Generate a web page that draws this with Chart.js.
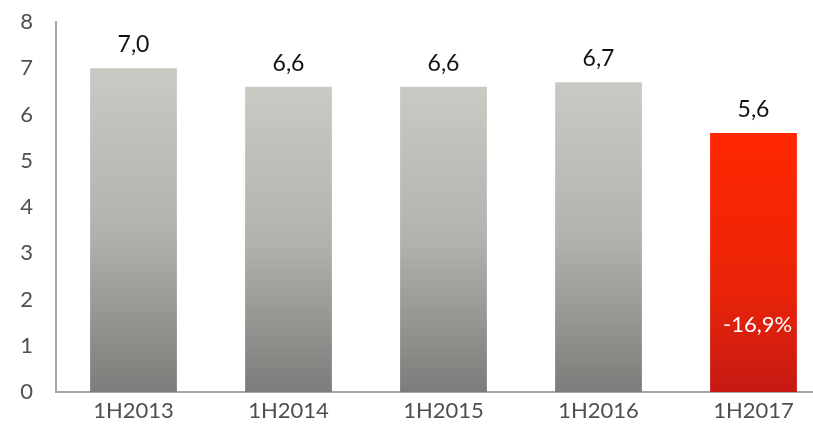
<!DOCTYPE html>
<html>
<head>
<meta charset="utf-8">
<script src="https://cdn.jsdelivr.net/npm/chart.js@4"></script>
<style>
  html, body { margin: 0; padding: 0; background: #fff; overflow: hidden; }
  #wrap { width: 813px; height: 435px; overflow: hidden; }
</style>
</head>
<body>
<div id="wrap"><canvas id="chart" width="831" height="435" style="width:831px;height:435px"></canvas></div>
<script>
const periods = ['1H2013', '1H2014', '1H2015', '1H2016', '1H2017'];
const values = [7.0, 6.6, 6.6, 6.7, 5.6];
const valueLabels = ['7,0', '6,6', '6,6', '6,7', '5,6'];
const changeLabel = '-16,9%';
const yTicks = [0, 1, 2, 3, 4, 5, 6, 7, 8];

function barGradient(ctx, top, bottom, last) {
    const g = ctx.createLinearGradient(0, top, 0, bottom);
    if (last) {
        g.addColorStop(0, '#ff2700');
        g.addColorStop(0.6, '#ea2408');
        g.addColorStop(1, '#c61a14');
    } else {
        g.addColorStop(0, '#cacac5');
        g.addColorStop(0.5, '#b3b2ae');
        g.addColorStop(1, '#7d7c7a');
    }
    return g;
}

const labelPlugin = {
    id: 'labels',
    afterDatasetsDraw(chart) {
        const ctx = chart.ctx;
        const meta = chart.getDatasetMeta(0);
        ctx.save();
        ctx.textAlign = 'center';
        ctx.textBaseline = 'alphabetic';
        ctx.font = '23px Lato';
        ctx.fillStyle = '#111';
        meta.data.forEach(function (bar, i) {
            ctx.fillText(valueLabels[i], bar.x, bar.y - 16);
        });
        const last = meta.data[meta.data.length - 1];
        ctx.font = '22px Lato';
        ctx.fillStyle = '#fff';
        ctx.fillText(changeLabel, last.x + 4, chart.scales.y.getPixelForValue(1.3));
        ctx.restore();
    }
};

const data = {
    labels: periods,
    datasets: [
        {
            data: values,
            backgroundColor: function (c) {
                const y = c.chart.scales.y;
                if (!c.chart.chartArea || !y) return '#aaa';
                return barGradient(c.chart.ctx, y.getPixelForValue(values[c.dataIndex]),
                    y.getPixelForValue(0), c.dataIndex === values.length - 1);
            },
            categoryPercentage: 1,
            barPercentage: 0.56
        }
    ]
};

const config = {
    type: 'bar',
    data: data,
    options: {
        responsive: false,
        animation: false,
        layout: { padding: { top: 22, right: 0, left: 0, bottom: 0 } },
        plugins: {
            legend: { display: false },
            title: { display: false },
            tooltip: { enabled: false }
        },
        scales: {
            x: {
                grid: { display: false, drawTicks: false },
                border: { color: '#a6a6a6', width: 2 },
                ticks: { color: '#4f4f4f', font: { family: 'Lato', size: 22 }, padding: 6 },
                afterFit: function (s) { s.height = 43; }
            },
            y: {
                min: 0,
                max: 8,
                afterBuildTicks: function (s) { s.ticks = yTicks.map(v => ({ value: v })); },
                grid: { display: false, drawTicks: false },
                border: { color: '#a6a6a6', width: 2 },
                ticks: { color: '#4f4f4f', font: { family: 'Lato', size: 22 }, padding: 23 },
                afterFit: function (s) {
                    s.width = 56;
                    s.paddingTop = 0;
                    s.paddingBottom = 0;
                }
            }
        }
    },
    plugins: [labelPlugin]
};

const myChart = new Chart(document.getElementById('chart'), config);
</script>
</body>
</html>
